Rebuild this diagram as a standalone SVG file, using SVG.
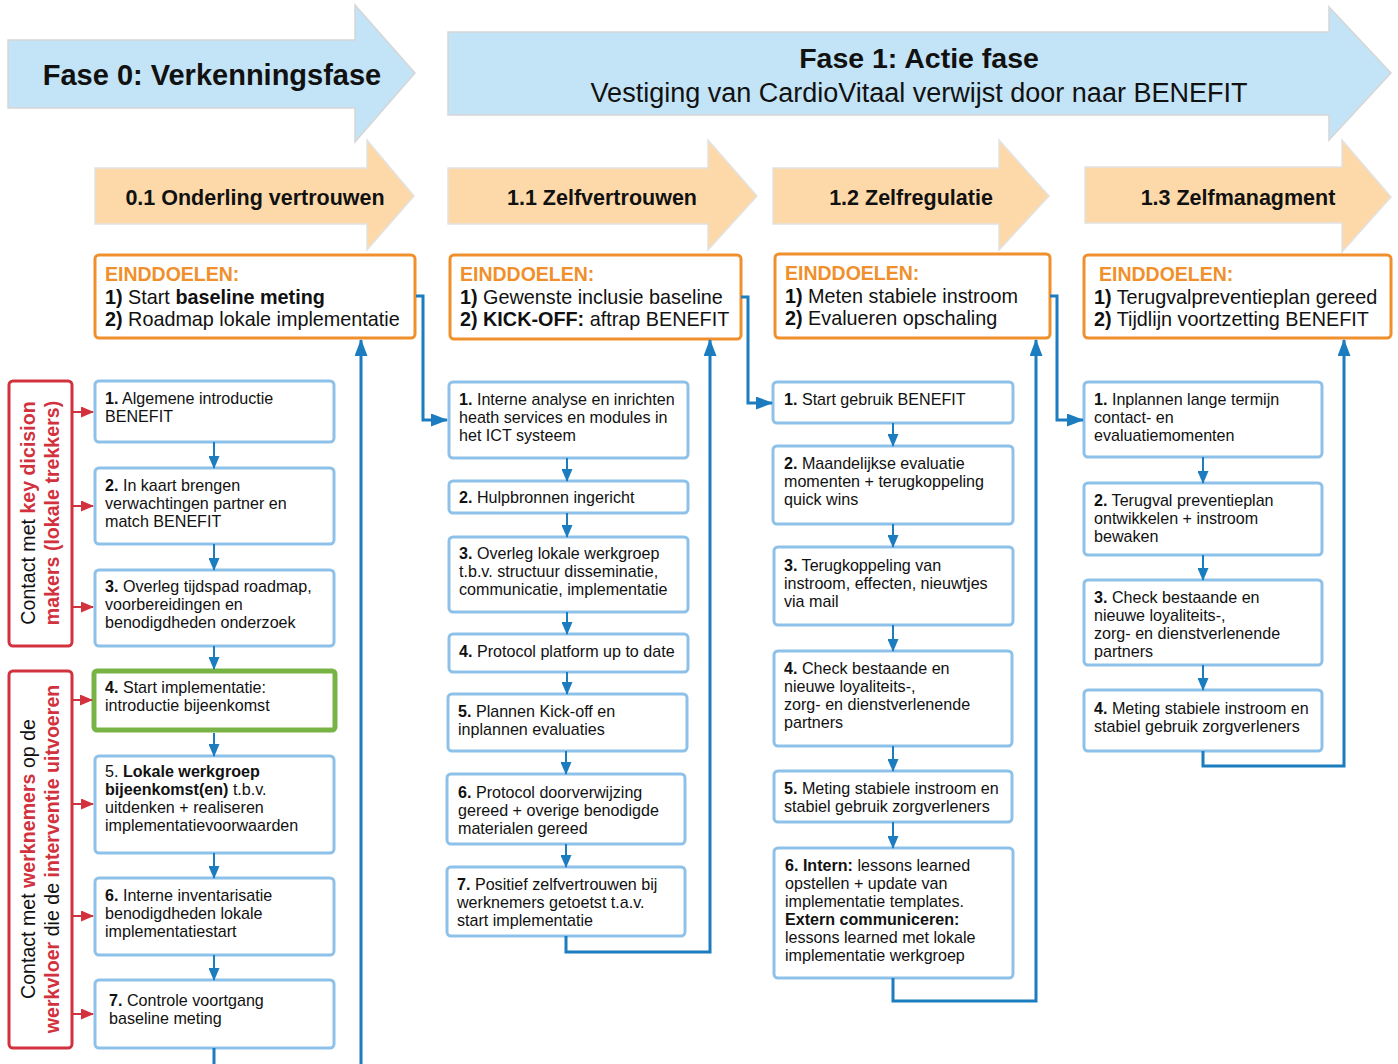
<svg xmlns="http://www.w3.org/2000/svg" width="1398" height="1064" viewBox="0 0 1398 1064">
<defs>
<style>
text{font-family:"Liberation Sans",Arial,sans-serif;fill:#111}
.b{font-weight:bold}
.phase{fill:#c3e3f6;stroke:#d6d6d6;stroke-width:1.5}
.sub{fill:#fdd9a9;stroke:#e2e2e2;stroke-width:1.5}
.goal{fill:#fff;stroke:#f0902c;stroke-width:3}
.step{fill:#fff;stroke:#8dc1e9;stroke-width:3}
.green{fill:#fff;stroke:#78b445;stroke-width:5}
.red{fill:#fff;stroke:#d1323e;stroke-width:3}
.gt{font-size:19.8px}
.gh{font-size:19.5px;font-weight:bold;fill:#f0902c}
.st{font-size:16.1px}
.vt{font-size:19.6px}
.r{fill:#d1323e;font-weight:bold}
.c{fill:none;stroke:#1b7dbf;stroke-width:2}
.cl{fill:none;stroke:#1b7dbf;stroke-width:3}
.cr{fill:none;stroke:#d1323e;stroke-width:2}
</style>
<marker id="ab" markerUnits="userSpaceOnUse" markerWidth="13" markerHeight="11" refX="12" refY="5.5" orient="auto"><path d="M0,0 L13,5.5 L0,11 z" fill="#1b7dbf"/></marker>
<marker id="abl" markerUnits="userSpaceOnUse" markerWidth="17" markerHeight="13" refX="16" refY="6.5" orient="auto"><path d="M0,0 L17,6.5 L0,13 z" fill="#1b7dbf"/></marker>
<marker id="ar" markerUnits="userSpaceOnUse" markerWidth="13" markerHeight="11" refX="12" refY="5.5" orient="auto"><path d="M0,0 L13,5.5 L0,11 z" fill="#d1323e"/></marker>
</defs>

<g id="phase0">
<polygon class="phase" points="8,40 355,40 355,5 415,73 355,142 355,108 8,108"/>
<text x="212" y="85" text-anchor="middle" class="b" font-size="29">Fase 0: Verkenningsfase</text>
</g>
<g id="phase1">
<polygon class="phase" points="448,32 1329,32 1329,7 1391,73 1329,140 1329,115 448,115"/>
<text x="919" y="68" text-anchor="middle" class="b" font-size="28.5">Fase 1: Actie fase</text>
<text x="919" y="102" text-anchor="middle" font-size="27">Vestiging van CardioVitaal verwijst door naar BENEFIT</text>
</g>

<g id="sub01">
<polygon class="sub" points="95,168 367,168 367,140 414,196 367,250 367,224 95,224"/>
<text x="255" y="205" text-anchor="middle" class="b" font-size="21.5">0.1 Onderling vertrouwen</text>
</g>
<g id="sub11">
<polygon class="sub" points="448,168 708,168 708,140 757,196 708,250 708,224 448,224"/>
<text x="602" y="205" text-anchor="middle" class="b" font-size="21.5">1.1 Zelfvertrouwen</text>
</g>
<g id="sub12">
<polygon class="sub" points="773,168 999,168 999,140 1049,196 999,250 999,224 773,224"/>
<text x="911" y="205" text-anchor="middle" class="b" font-size="21.5">1.2 Zelfregulatie</text>
</g>
<g id="sub13">
<polygon class="sub" points="1085,167 1342,167 1342,140 1391,197 1342,252 1342,223 1085,223"/>
<text x="1238" y="205" text-anchor="middle" class="b" font-size="21.5">1.3 Zelfmanagment</text>
</g>

<g id="goal01">
<rect class="goal" x="95" y="255" width="320" height="83" rx="4"/>
<text x="105" y="281" class="gh">EINDDOELEN:</text>
<text x="105" y="304" class="gt"><tspan class="b">1)</tspan> Start <tspan class="b">baseline meting</tspan></text>
<text x="105" y="326" class="gt"><tspan class="b">2)</tspan> Roadmap lokale implementatie</text>
</g>
<g id="goal11">
<rect class="goal" x="450" y="255" width="291" height="84" rx="4"/>
<text x="460" y="281" class="gh">EINDDOELEN:</text>
<text x="460" y="304" class="gt"><tspan class="b">1)</tspan> Gewenste inclusie baseline</text>
<text x="460" y="326" class="gt"><tspan class="b">2) KICK-OFF:</tspan> aftrap BENEFIT</text>
</g>
<g id="goal12">
<rect class="goal" x="775" y="254" width="275" height="84" rx="4"/>
<text x="785" y="280" class="gh">EINDDOELEN:</text>
<text x="785" y="303" class="gt"><tspan class="b">1)</tspan> Meten stabiele instroom</text>
<text x="785" y="325" class="gt"><tspan class="b">2)</tspan> Evalueren opschaling</text>
</g>
<g id="goal13">
<rect class="goal" x="1084" y="255" width="307" height="83" rx="4"/>
<text x="1099" y="281" class="gh">EINDDOELEN:</text>
<text x="1094" y="304" class="gt"><tspan class="b">1)</tspan> Terugvalpreventieplan gereed</text>
<text x="1094" y="326" class="gt"><tspan class="b">2)</tspan> Tijdlijn voortzetting BENEFIT</text>
</g>

<g id="red1">
<rect class="red" x="9" y="381" width="63" height="265" rx="4"/>
<text transform="translate(35,513) rotate(-90)" text-anchor="middle" class="vt">Contact met <tspan class="r">key dicision</tspan></text>
<text transform="translate(59,513) rotate(-90)" text-anchor="middle" class="vt r">makers (lokale trekkers)</text>
</g>
<g id="red2">
<rect class="red" x="9" y="671" width="63" height="377" rx="4"/>
<text transform="translate(35,859) rotate(-90)" text-anchor="middle" class="vt">Contact met <tspan class="r">werknemers</tspan> op de</text>
<text transform="translate(59,859) rotate(-90)" text-anchor="middle" class="vt"><tspan class="r">werkvloer</tspan> die de <tspan class="r">interventie uitvoeren</tspan></text>
</g>

<g id="s01">
<rect class="step" x="95" y="381" width="239" height="61" rx="4"/>
<text x="105" y="404" class="st"><tspan class="b">1.</tspan> Algemene introductie</text>
<text x="105" y="422" class="st">BENEFIT</text>
</g>
<g id="s02">
<rect class="step" x="95" y="468" width="239" height="76" rx="4"/>
<text x="105" y="491" class="st"><tspan class="b">2.</tspan> In kaart brengen</text>
<text x="105" y="509" class="st">verwachtingen partner en</text>
<text x="105" y="527" class="st">match BENEFIT</text>
</g>
<g id="s03">
<rect class="step" x="95" y="570" width="239" height="76" rx="4"/>
<text x="105" y="592" class="st"><tspan class="b">3.</tspan> Overleg tijdspad roadmap,</text>
<text x="105" y="610" class="st">voorbereidingen en</text>
<text x="105" y="628" class="st">benodigdheden onderzoek</text>
</g>
<g id="s04">
<rect class="green" x="94" y="671" width="241" height="59" rx="3"/>
<text x="105" y="693" class="st"><tspan class="b">4.</tspan> Start implementatie:</text>
<text x="105" y="711" class="st">introductie bijeenkomst</text>
</g>
<g id="s05">
<rect class="step" x="95" y="756" width="239" height="97" rx="4"/>
<text x="105" y="777" class="st">5. <tspan class="b">Lokale werkgroep</tspan></text>
<text x="105" y="795" class="st"><tspan class="b">bijeenkomst(en)</tspan> t.b.v.</text>
<text x="105" y="813" class="st">uitdenken + realiseren</text>
<text x="105" y="831" class="st">implementatievoorwaarden</text>
</g>
<g id="s06">
<rect class="step" x="95" y="878" width="239" height="77" rx="4"/>
<text x="105" y="901" class="st"><tspan class="b">6.</tspan> Interne inventarisatie</text>
<text x="105" y="919" class="st">benodigdheden lokale</text>
<text x="105" y="937" class="st">implementatiestart</text>
</g>
<g id="s07">
<rect class="step" x="95" y="980" width="239" height="68" rx="4"/>
<text x="109" y="1006" class="st"><tspan class="b">7.</tspan> Controle voortgang</text>
<text x="109" y="1024" class="st">baseline meting</text>
</g>

<g id="s11">
<rect class="step" x="449" y="382" width="239" height="76" rx="4"/>
<text x="459" y="405" class="st"><tspan class="b">1.</tspan> Interne analyse en inrichten</text>
<text x="459" y="423" class="st">heath services en modules in</text>
<text x="459" y="441" class="st">het ICT systeem</text>
</g>
<g id="s12">
<rect class="step" x="449" y="481" width="239" height="32" rx="4"/>
<text x="459" y="503" class="st"><tspan class="b">2.</tspan> Hulpbronnen ingericht</text>
</g>
<g id="s13">
<rect class="step" x="449" y="537" width="239" height="75" rx="4"/>
<text x="459" y="559" class="st"><tspan class="b">3.</tspan> Overleg lokale werkgroep</text>
<text x="459" y="577" class="st">t.b.v. structuur disseminatie,</text>
<text x="459" y="595" class="st">communicatie, implementatie</text>
</g>
<g id="s14">
<rect class="step" x="449" y="634" width="239" height="38" rx="4"/>
<text x="459" y="657" class="st"><tspan class="b">4.</tspan> Protocol platform up to date</text>
</g>
<g id="s15">
<rect class="step" x="448" y="694" width="239" height="57" rx="4"/>
<text x="458" y="717" class="st"><tspan class="b">5.</tspan> Plannen Kick-off en</text>
<text x="458" y="735" class="st">inplannen evaluaties</text>
</g>
<g id="s16">
<rect class="step" x="447" y="774" width="238" height="70" rx="4"/>
<text x="458" y="798" class="st"><tspan class="b">6.</tspan> Protocol doorverwijzing</text>
<text x="458" y="816" class="st">gereed + overige benodigde</text>
<text x="458" y="834" class="st">materialen gereed</text>
</g>
<g id="s17">
<rect class="step" x="447" y="867" width="238" height="69" rx="4"/>
<text x="457" y="890" class="st"><tspan class="b">7.</tspan> Positief zelfvertrouwen bij</text>
<text x="457" y="908" class="st">werknemers getoetst t.a.v.</text>
<text x="457" y="926" class="st">start implementatie</text>
</g>

<g id="s21">
<rect class="step" x="773" y="382" width="240" height="41" rx="4"/>
<text x="784" y="405" class="st"><tspan class="b">1.</tspan> Start gebruik BENEFIT</text>
</g>
<g id="s22">
<rect class="step" x="773" y="446" width="240" height="78" rx="4"/>
<text x="784" y="469" class="st"><tspan class="b">2.</tspan> Maandelijkse evaluatie</text>
<text x="784" y="487" class="st">momenten + terugkoppeling</text>
<text x="784" y="505" class="st">quick wins</text>
</g>
<g id="s23">
<rect class="step" x="774" y="547" width="239" height="78" rx="4"/>
<text x="784" y="571" class="st"><tspan class="b">3.</tspan> Terugkoppeling van</text>
<text x="784" y="589" class="st">instroom, effecten, nieuwtjes</text>
<text x="784" y="607" class="st">via mail</text>
</g>
<g id="s24">
<rect class="step" x="774" y="651" width="238" height="95" rx="4"/>
<text x="784" y="674" class="st"><tspan class="b">4.</tspan> Check bestaande en</text>
<text x="784" y="692" class="st">nieuwe loyaliteits-,</text>
<text x="784" y="710" class="st">zorg- en dienstverlenende</text>
<text x="784" y="728" class="st">partners</text>
</g>
<g id="s25">
<rect class="step" x="774" y="771" width="238" height="51" rx="4"/>
<text x="784" y="794" class="st"><tspan class="b">5.</tspan> Meting stabiele instroom en</text>
<text x="784" y="812" class="st">stabiel gebruik zorgverleners</text>
</g>
<g id="s26">
<rect class="step" x="774" y="848" width="239" height="130" rx="4"/>
<text x="785" y="871" class="st"><tspan class="b">6. Intern:</tspan> lessons learned</text>
<text x="785" y="889" class="st">opstellen + update van</text>
<text x="785" y="907" class="st">implementatie templates.</text>
<text x="785" y="925" class="st b">Extern communiceren:</text>
<text x="785" y="943" class="st">lessons learned met lokale</text>
<text x="785" y="961" class="st">implementatie werkgroep</text>
</g>

<g id="s31">
<rect class="step" x="1084" y="382" width="238" height="75" rx="4"/>
<text x="1094" y="405" class="st"><tspan class="b">1.</tspan> Inplannen lange termijn</text>
<text x="1094" y="423" class="st">contact- en</text>
<text x="1094" y="441" class="st">evaluatiemomenten</text>
</g>
<g id="s32">
<rect class="step" x="1084" y="483" width="238" height="72" rx="4"/>
<text x="1094" y="506" class="st"><tspan class="b">2.</tspan> Terugval preventieplan</text>
<text x="1094" y="524" class="st">ontwikkelen + instroom</text>
<text x="1094" y="542" class="st">bewaken</text>
</g>
<g id="s33">
<rect class="step" x="1084" y="580" width="238" height="85" rx="4"/>
<text x="1094" y="603" class="st"><tspan class="b">3.</tspan> Check bestaande en</text>
<text x="1094" y="621" class="st">nieuwe loyaliteits-,</text>
<text x="1094" y="639" class="st">zorg- en dienstverlenende</text>
<text x="1094" y="657" class="st">partners</text>
</g>
<g id="s34">
<rect class="step" x="1084" y="690" width="238" height="61" rx="4"/>
<text x="1094" y="714" class="st"><tspan class="b">4.</tspan> Meting stabiele instroom en</text>
<text x="1094" y="732" class="st">stabiel gebruik zorgverleners</text>
</g>

<g id="connectors">
<path class="cr" marker-end="url(#ar)" d="M72,412H93"/>
<path class="cr" marker-end="url(#ar)" d="M72,506H93"/>
<path class="cr" marker-end="url(#ar)" d="M72,607H93"/>
<path class="cr" marker-end="url(#ar)" d="M72,700H92"/>
<path class="cr" marker-end="url(#ar)" d="M72,804H93"/>
<path class="cr" marker-end="url(#ar)" d="M72,916H93"/>
<path class="cr" marker-end="url(#ar)" d="M72,1014H93"/>
<path class="c" marker-end="url(#ab)" d="M214,442V468"/>
<path class="c" marker-end="url(#ab)" d="M214,544V570"/>
<path class="c" marker-end="url(#ab)" d="M214,646V669"/>
<path class="c" marker-end="url(#ab)" d="M214,733V756"/>
<path class="c" marker-end="url(#ab)" d="M214,853V878"/>
<path class="c" marker-end="url(#ab)" d="M214,955V980"/>
<path class="cl" d="M214,1048V1064"/>
<path class="cl" marker-end="url(#abl)" d="M361,1064V340"/>
<path class="c" marker-end="url(#ab)" d="M567,458V481"/>
<path class="c" marker-end="url(#ab)" d="M567,513V537"/>
<path class="c" marker-end="url(#ab)" d="M567,612V634"/>
<path class="c" marker-end="url(#ab)" d="M567,672V694"/>
<path class="c" marker-end="url(#ab)" d="M566,751V774"/>
<path class="c" marker-end="url(#ab)" d="M566,844V867"/>
<path class="cl" marker-end="url(#abl)" d="M566,936V952H710V340"/>
<path class="c" marker-end="url(#ab)" d="M893,423V446"/>
<path class="c" marker-end="url(#ab)" d="M893,524V547"/>
<path class="c" marker-end="url(#ab)" d="M893,625V651"/>
<path class="c" marker-end="url(#ab)" d="M893,746V771"/>
<path class="c" marker-end="url(#ab)" d="M893,822V848"/>
<path class="cl" marker-end="url(#abl)" d="M893,978V1001H1036V340"/>
<path class="c" marker-end="url(#ab)" d="M1203,457V483"/>
<path class="c" marker-end="url(#ab)" d="M1203,555V580"/>
<path class="c" marker-end="url(#ab)" d="M1203,665V690"/>
<path class="cl" marker-end="url(#abl)" d="M1203,751V766H1344V340"/>
<path class="cl" marker-end="url(#abl)" d="M416,296H423V420H447"/>
<path class="cl" marker-end="url(#abl)" d="M741,297H748V403H772"/>
<path class="cl" marker-end="url(#abl)" d="M1050,296H1057V420H1083"/>
</g>
</svg>
